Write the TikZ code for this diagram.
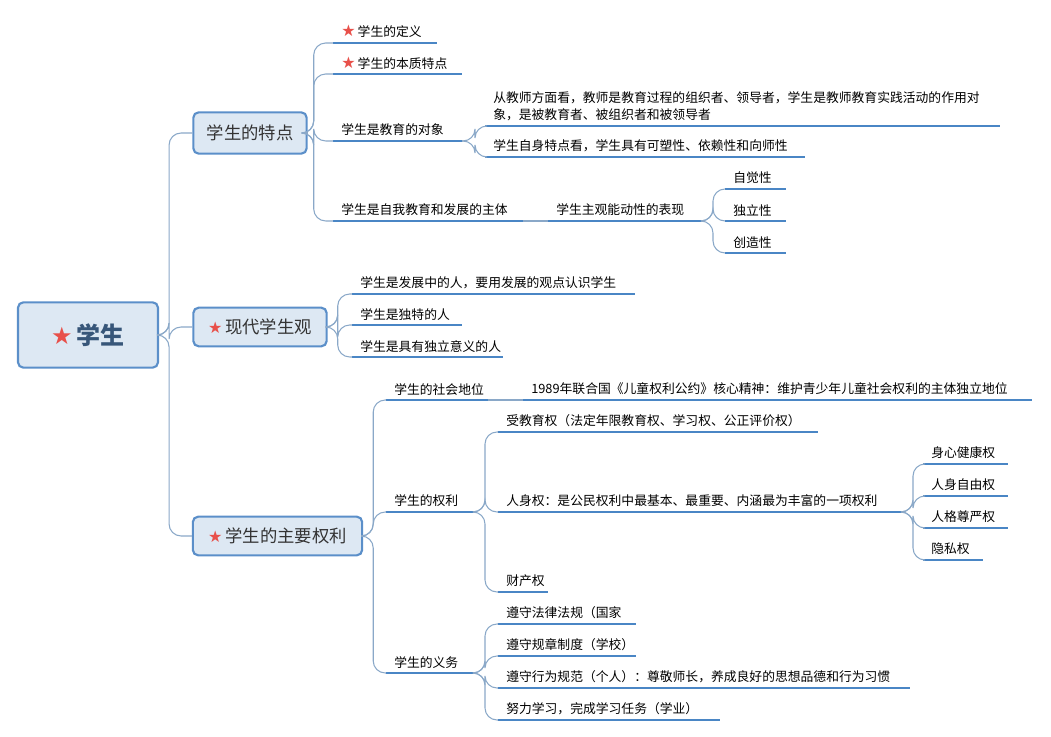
\documentclass[tikz,border=0pt]{standalone}
\usepackage{fontspec}
\setmainfont{Noto Sans CJK SC}
\newfontfamily\symfont{DejaVu Sans}
\definecolor{boxfill}{HTML}{DDE8F3}
\definecolor{boxline}{HTML}{5B8FC9}
\definecolor{leafline}{HTML}{4A86C5}
\definecolor{connline}{HTML}{8AA8C8}
\definecolor{starred}{HTML}{E8504A}
\newcommand{\rstar}{{\symfont\color{starred}\large★}}
\newcommand{\rootstar}{{\symfont\color{starred}★}}
% leaf: name, x left, x right, y of line, text
\newcommand{\leaf}[5]{%
  \coordinate (#1-l) at (#2,#4);
  \coordinate (#1-r) at (#3,#4);
  \draw[leafl] (#1-l) -- (#1-r);
  \node[leaftext] (#1) at (#2,#4) {#5};
}
\begin{document}
\begin{tikzpicture}[x=0.75pt,y=-0.75pt,
  topic/.style={draw=boxline,fill=boxfill,line width=1.6pt,rounded corners=4pt,
    font=\fontsize{13}{15}\selectfont,text=black!80,inner sep=0pt},
  leafl/.style={leafline,line width=1.6pt},
  leaftext/.style={anchor=south west,xshift=6pt,yshift=3.5pt,inner sep=0pt,
    font=\fontsize{9.6}{13}\selectfont,align=left},
  conn/.style={connline,line width=0.8pt,rounded corners=9pt}]
\path[use as bounding box] (0,0) rectangle (1051,737);
% root and main topics
\node[topic,minimum width=105pt,minimum height=49pt,font=\fontsize{18}{20}\bfseries,text=boxline!60!black]
  (root) at (88,335) {\rootstar\,学生};
\node[topic,minimum width=85pt,minimum height=31pt] (trait) at (250,133) {学生的特点};
\node[topic,minimum width=100pt,minimum height=29pt] (view) at (260,327) {\rstar\,现代学生观};
\node[topic,minimum width=127pt,minimum height=29pt] (right) at (277.5,536) {\rstar\,学生的主要权利};
\draw[conn] (root.east) -- ++(10,0) |- (trait.west);
\draw[conn] (root.east) -- ++(10,0) |- (view.west);
\draw[conn] (root.east) -- ++(10,0) |- (right.west);
% 学生的特点
\leaf{def}{333}{437}{43}{\rstar\,学生的定义}
\leaf{ess}{333}{462}{74}{\rstar\,学生的本质特点}
\leaf{obj}{333}{462}{141}{学生是教育的对象}
\leaf{subj}{333}{523}{221}{学生是自我教育和发展的主体}
\foreach \c in {def,ess,obj,subj} \draw[conn] (trait.east) -- ++(6,0) |- (\c-l);
\leaf{tch}{485}{1000}{126}{从教师方面看，教师是教育过程的组织者、领导者，学生是教师教育实践活动的作用对\\象，是被教育者、被组织者和被领导者}
\leaf{self}{485}{805}{157}{学生自身特点看，学生具有可塑性、依赖性和向师性}
\foreach \c in {tch,self} \draw[conn] (obj-r) -- ++(13,0) |- (\c-l);
\leaf{act}{548}{703}{221}{学生主观能动性的表现}
\draw[conn] (subj-r) -- (act-l);
\leaf{aware}{725}{786}{189}{自觉性}
\leaf{indep}{725}{786}{221}{独立性}
\leaf{creat}{725}{786}{253}{创造性}
\foreach \c in {aware,indep,creat} \draw[conn] (act-r) -- ++(10,0) |- (\c-l);
% 现代学生观
\leaf{dev}{352}{635}{294}{学生是发展中的人，要用发展的观点认识学生}
\leaf{uniq}{352}{462}{325}{学生是独特的人}
\leaf{own}{352}{503}{357}{学生是具有独立意义的人}
\foreach \c in {dev,uniq,own} \draw[conn] (view.east) -- ++(10,0) |- (\c-l);
% 学生的主要权利
\leaf{soc}{386}{488}{400}{学生的社会地位}
\leaf{rig}{386}{475}{512}{学生的权利}
\leaf{duty}{386}{475}{673}{学生的义务}
\foreach \c in {soc,rig,duty} \draw[conn] (right.east) -- ++(10,0) |- (\c-l);
\leaf{conv}{523}{1032}{400}{1989年联合国《儿童权利公约》核心精神：维护青少年儿童社会权利的主体独立地位}
\draw[conn] (soc-r) -- (conv-l);
\leaf{edu}{498}{818}{432}{受教育权（法定年限教育权、学习权、公正评价权）}
\leaf{pers}{498}{905}{512}{人身权：是公民权利中最基本、最重要、内涵最为丰富的一项权利}
\leaf{prop}{498}{548}{592}{财产权}
\foreach \c in {edu,pers,prop} \draw[conn] (rig-r) -- ++(10,0) |- (\c-l);
\leaf{health}{923}{1008}{464}{身心健康权}
\leaf{free}{923}{1008}{496}{人身自由权}
\leaf{dign}{923}{1008}{528}{人格尊严权}
\leaf{priv}{923}{983}{560}{隐私权}
\foreach \c in {health,free,dign,priv} \draw[conn] (pers-r) -- ++(8,0) |- (\c-l);
\leaf{law}{498}{636}{624}{遵守法律法规（国家}
\leaf{rule}{498}{636}{656}{遵守规章制度（学校）}
\leaf{norm}{498}{910}{688}{遵守行为规范（个人）：尊敬师长，养成良好的思想品德和行为习惯}
\leaf{study}{498}{720}{720}{努力学习，完成学习任务（学业）}
\foreach \c in {law,rule,norm,study} \draw[conn] (duty-r) -- ++(10,0) |- (\c-l);
\end{tikzpicture}
\end{document}
